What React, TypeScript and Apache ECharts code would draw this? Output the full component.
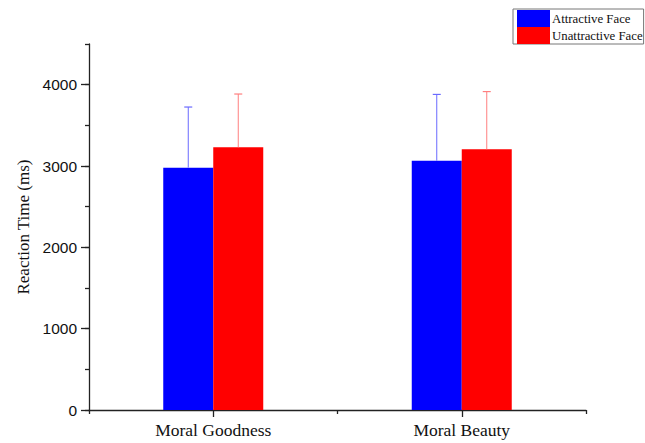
import React, { useEffect, useRef } from "react";
import * as echarts from "echarts";

const categories = ["Moral Goodness", "Moral Beauty"];
const attractive = [2980, 3065];
const unattractive = [3230, 3205];
const attractiveErr = [745, 815];
const unattractiveErr = [655, 710];
const yMajorTicks = [0, 1000, 2000, 3000, 4000];

const SERIF = "'Liberation Serif', 'Times New Roman', serif";
const SANS = "'Liberation Sans', Arial, sans-serif";

function errorSeries(name: string, means: number[], errs: number[], color: string, offset: number) {
  return {
    type: "custom",
    name: name + " err",
    xAxisIndex: 0,
    yAxisIndex: 0,
    z: 5,
    silent: true,
    data: means.map((m, i) => [i, m, m + errs[i]]),
    encode: { x: 0, y: [1, 2] },
    renderItem: (params: any, api: any) => {
      const base = api.coord([api.value(0), api.value(1)]);
      const top = api.coord([api.value(0), api.value(2)]);
      const x = base[0] + offset;
      const cap = 4;
      return {
        type: "group",
        children: [
          { type: "line", shape: { x1: x, y1: base[1], x2: x, y2: top[1] }, style: { stroke: color, lineWidth: 1 } },
          { type: "line", shape: { x1: x - cap, y1: top[1], x2: x + cap, y2: top[1] }, style: { stroke: color, lineWidth: 1.2 } },
        ],
      };
    },
  };
}

export default function App() {
  const ref = useRef<HTMLDivElement>(null);
  useEffect(() => {
    if (!ref.current) return;
    const chart = echarts.init(ref.current, null, { renderer: "svg" });
    chart.setOption({
      animation: false,
      backgroundColor: "#ffffff",
      grid: { left: 89, right: 59, top: 44, bottom: 33, containLabel: false },
      legend: {
        data: ["Attractive Face", "Unattractive Face"],
        orient: "vertical",
        left: 513,
        top: 9,
        itemWidth: 33,
        itemHeight: 17,
        itemGap: 0,
        padding: [1, 1, 0, 4],
        borderColor: "#777",
        borderWidth: 1,
        icon: "rect",
        textStyle: { fontFamily: SERIF, fontSize: 12.8, color: "#111", padding: [0, 0, 0, -3] },
      },
      xAxis: [
        {
          type: "category",
          data: categories,
          axisLine: { show: true, lineStyle: { color: "#222", width: 1.3 } },
          axisTick: { show: true, alignWithLabel: true, length: 7, lineStyle: { color: "#222", width: 1.3 } },
          axisLabel: { fontFamily: SERIF, fontSize: 17.5, color: "#111", margin: 11 },
        },
        {
          type: "category",
          data: categories,
          position: "bottom",
          axisLine: { show: false },
          axisTick: { show: true, alignWithLabel: false, length: 4, lineStyle: { color: "#222", width: 1.3 } },
          axisLabel: { show: false },
        },
      ],
      yAxis: [
        {
          type: "value",
          min: 0,
          max: 4500,
          interval: 500,
          splitLine: { show: false },
          axisLine: { show: true, lineStyle: { color: "#222", width: 1.3 } },
          axisTick: { show: true, length: 4, lineStyle: { color: "#222", width: 1.3 } },
          axisLabel: {
            fontFamily: SANS,
            fontSize: 15.5,
            color: "#111",
            margin: 12,
            customValues: yMajorTicks,
            formatter: (v: number) => String(v),
          },
          name: "Reaction Time (ms)",
          nameLocation: "middle",
          nameGap: 52,
          nameTextStyle: { fontFamily: SERIF, fontSize: 17, color: "#111" },
        },
        {
          type: "value",
          min: 0,
          max: 4500,
          position: "left",
          splitLine: { show: false },
          axisLine: { show: false },
          axisTick: { show: true, length: 8, customValues: yMajorTicks, lineStyle: { color: "#222", width: 1.3 } },
          axisLabel: { show: false },
        },
      ],
      series: [
        {
          type: "bar",
          name: "Attractive Face",
          data: attractive,
          barWidth: 50,
          barGap: "0%",
          itemStyle: { color: "#0000ff" },
        },
        {
          type: "bar",
          name: "Unattractive Face",
          data: unattractive,
          barWidth: 50,
          barGap: "0%",
          itemStyle: { color: "#ff0000" },
        },
        errorSeries("Attractive Face", attractive, attractiveErr, "#6a6aff", -25),
        errorSeries("Unattractive Face", unattractive, unattractiveErr, "#ff7f7f", 25),
      ],
    });
    return () => chart.dispose();
  }, []);
  return <div ref={ref} style={{ position: "fixed", left: 0, top: 0, width: 645, height: 443 }} />;
}
